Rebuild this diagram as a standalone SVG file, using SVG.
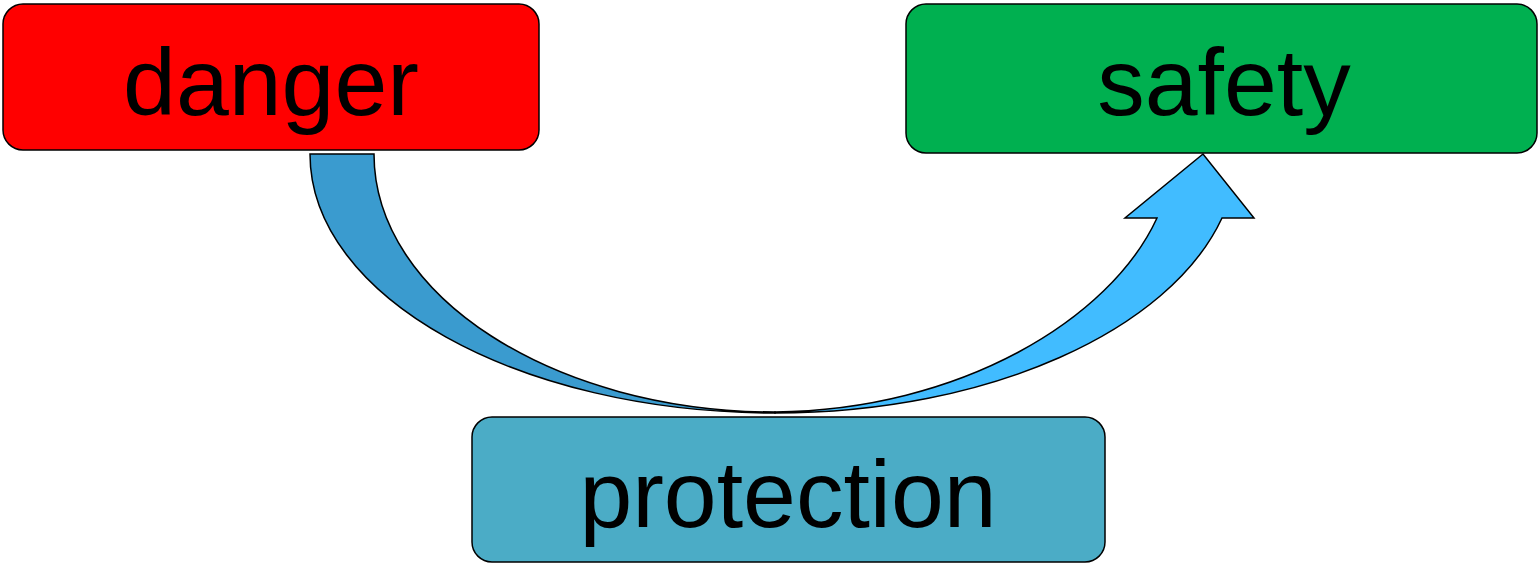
<svg xmlns="http://www.w3.org/2000/svg" width="1540" height="563" viewBox="0 0 1540 563">
<style>
.box{stroke:#000;stroke-width:1.5}
.lbl{font-family:"Liberation Sans",Arial,sans-serif;font-size:95px;fill:#000;text-anchor:middle}
.arr{stroke:#000;stroke-width:1.5;stroke-linejoin:miter}
</style>
<rect width="1540" height="563" fill="#fff"/>
<g id="connectors">
<path class="arr" fill="#3A9BCF" d="M310,154 L374,154 C374,296 554,412 775,412 L775,413 C518,413 310,297 310,154 Z"/>
<path class="arr" fill="#41BCFF" d="M775,413 C990,413 1170,330 1222,218 L1254,218 L1203,154 L1125,218 L1157,218 C1110,320 960,410 775,412 Z"/>
</g>
<g id="danger">
<rect class="box" x="3" y="4" width="536" height="146" rx="20" fill="#FF0000"/>
<text class="lbl" x="271" y="115">danger</text>
</g>
<g id="safety">
<rect class="box" x="906" y="4" width="631" height="149" rx="20" fill="#00B050"/>
<text class="lbl" x="1224" y="115">safety</text>
</g>
<g id="protection">
<rect class="box" x="472" y="417" width="633" height="145" rx="20" fill="#4BACC6"/>
<text class="lbl" x="788" y="527">protection</text>
</g>
</svg>
